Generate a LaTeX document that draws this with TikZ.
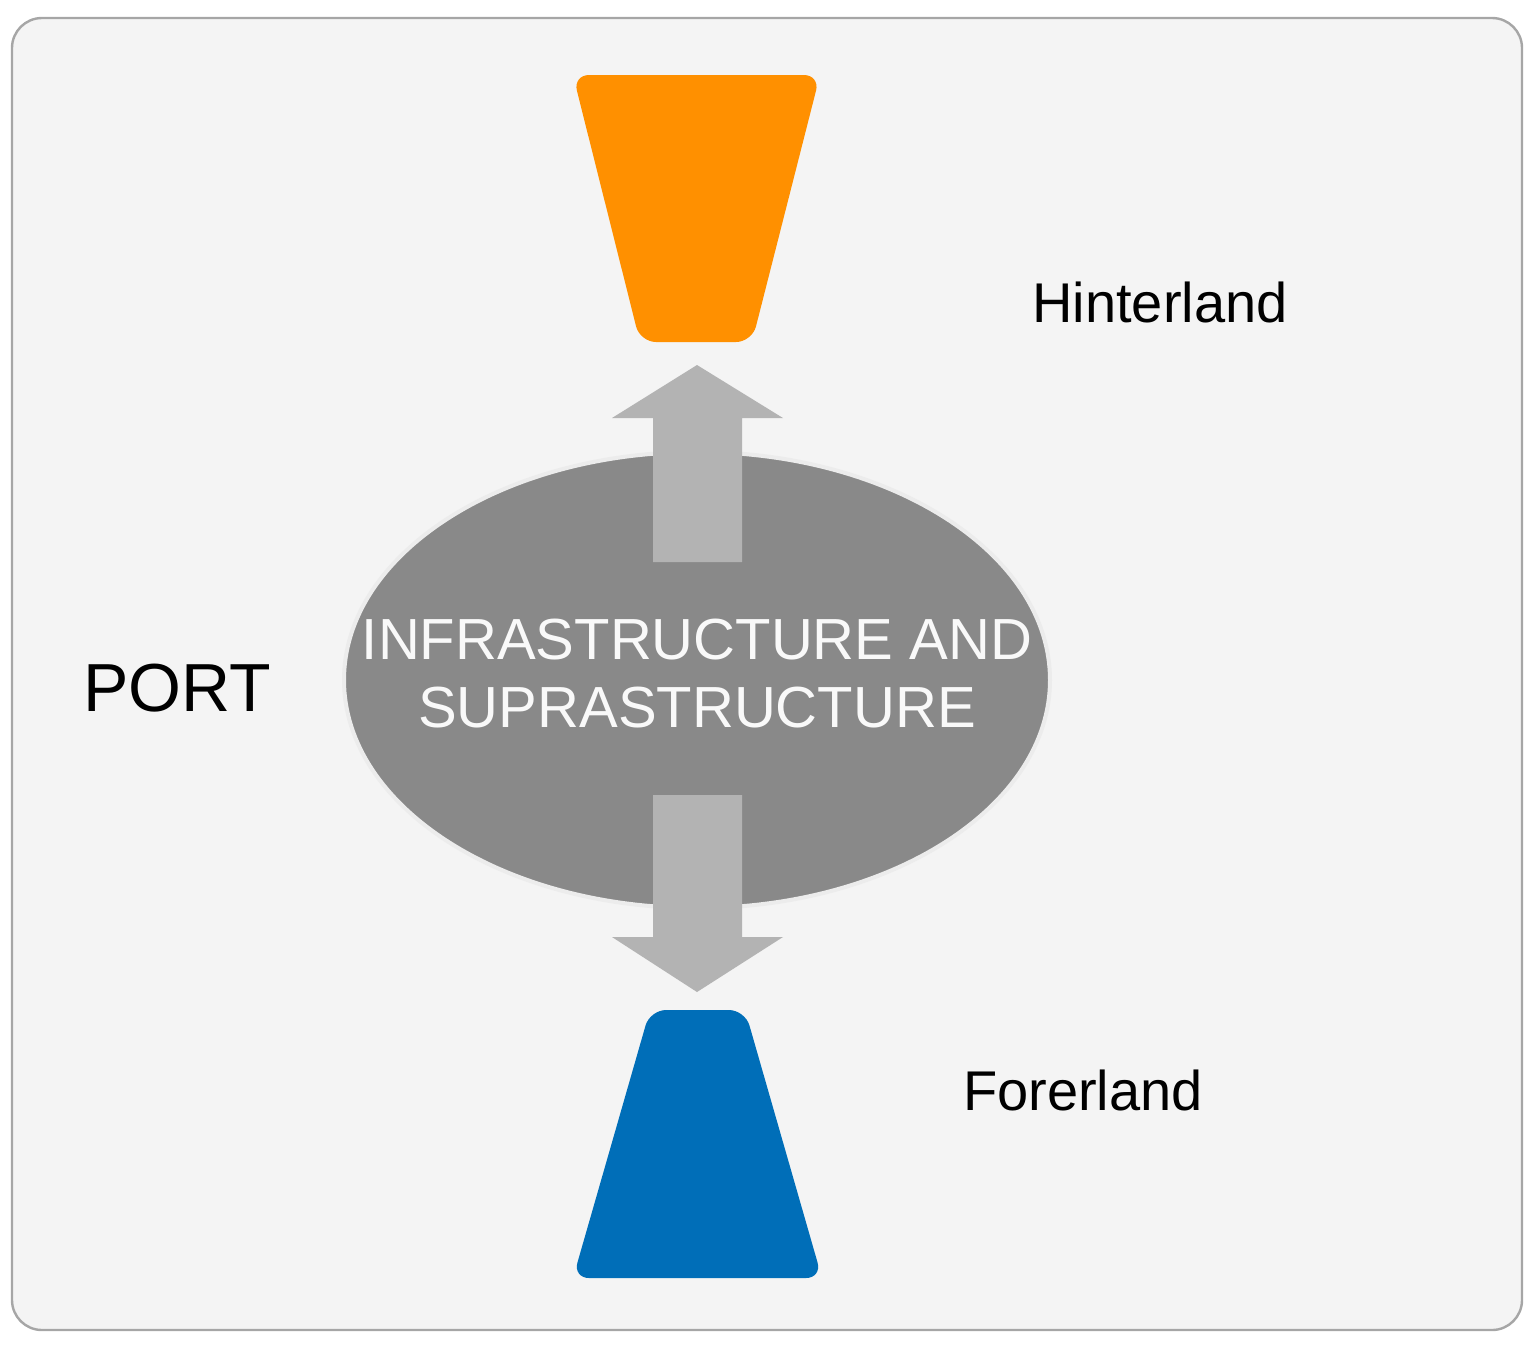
\documentclass[tikz,border=0pt]{standalone}
\usepackage{fontspec}
\setmainfont{Liberation Sans}
\usetikzlibrary{shapes.geometric}
\definecolor{bg}{HTML}{F4F4F4}
\definecolor{orng}{HTML}{FF9000}
\definecolor{blu}{HTML}{006EB8}
\definecolor{ell}{HTML}{898989}
\definecolor{arr}{HTML}{B3B3B3}
\tikzset{lbl/.style={font=\fontsize{28}{32}\selectfont,text=black},
 arrowshape/.style={fill=arr,draw=none}}
\begin{document}
\begin{tikzpicture}[x=0.5pt,y=-0.5pt]
\useasboundingbox (0,0) rectangle (1536,1346);
\draw[fill=bg,draw=gray!70,line width=1.2pt,rounded corners=15pt] (12,18) rectangle (1522,1330);
\fill[orng,rounded corners=8pt] (573,75) -- (820,75) -- (752,342) -- (640,342) -- cycle;
\fill[blu,rounded corners=8pt] (650,1010) -- (745,1010) -- (822,1278) -- (573,1278) -- cycle;
\node[ellipse,fill=ell,draw=white!85!gray,line width=2pt,minimum width=706\pgflinewidth,inner sep=0pt,
 minimum width=353pt,minimum height=228pt] (core) at (697,680) {};
\fill[arrowshape] (653,562) -- (653,418) -- (612,418) -- (697,365) -- (783,418) -- (742,418) -- (742,562) -- cycle;
\fill[arrowshape] (653,795) -- (653,937) -- (612,937) -- (697,992) -- (783,937) -- (742,937) -- (742,795) -- cycle;
\node[align=center,text=white!95!gray,font=\fontsize{29}{34}\selectfont] (t) at (697,674) {INFRASTRUCTURE AND\\SUPRASTRUCTURE};
\node[lbl] (h) at (1160,302) {Hinterland};
\node[lbl] (f) at (1083,1090) {Forerland};
\node[lbl,font=\fontsize{34}{38}\selectfont] (p) at (177,688) {PORT};
\end{tikzpicture}
\end{document}
